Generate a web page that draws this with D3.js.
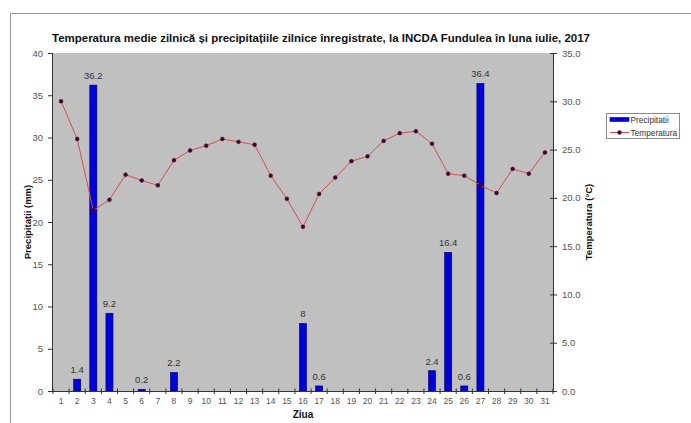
<!DOCTYPE html>
<html>
<head>
<meta charset="utf-8">
<script src="https://cdn.jsdelivr.net/npm/d3@7/dist/d3.min.js"></script>
<style>
  html, body { margin: 0; padding: 0; background: #ffffff; }
  svg { display: block; font-family: "Liberation Sans", Arial, sans-serif; }
</style>
</head>
<body>
<svg id="chart" width="691" height="423"></svg>
<script>
// Days of July 2017
const days = d3.range(1, 32);
// Daily precipitation (mm)
const precipitation = [0, 1.4, 36.2, 9.2, 0, 0.2, 0, 2.2, 0, 0, 0, 0, 0, 0, 0, 8, 0.6, 0, 0, 0, 0, 0, 0, 2.4, 16.4, 0.6, 36.4, 0, 0, 0, 0];
// Daily mean temperature (°C)
const temperature = [30.0, 26.1, 18.7, 19.8, 22.4, 21.8, 21.3, 23.9, 24.9, 25.4, 26.1, 25.8, 25.5, 22.3, 19.9, 17.0, 20.4, 22.1, 23.8, 24.3, 25.9, 26.7, 26.9, 25.6, 22.5, 22.3, 21.3, 20.5, 23.0, 22.5, 24.7];
const precipTicks = [0, 5, 10, 15, 20, 25, 30, 35, 40];
const tempTicks = [0, 5, 10, 15, 20, 25, 30, 35];

const titleText = "Temperatura medie zilnică și precipitațiile zilnice înregistrate, la INCDA Fundulea în luna iulie, 2017";

const svg = d3.select("#chart");
const plot = { left: 53, right: 553, top: 53, bottom: 391 };

// Frame around the whole chart
svg.append("path")
  .attr("d", "M10.5,423 V13.5 H691")
  .attr("fill", "none")
  .attr("stroke", "#9a9a9a")
  .attr("stroke-width", 1);

const x = d3.scaleBand().domain(days).range([plot.left, plot.right]).paddingInner(0.56).paddingOuter(0.28);
const xEdge = d3.scaleLinear().domain([0, days.length]).range([plot.left, plot.right]);
const yP = d3.scaleLinear().domain([0, 40]).range([plot.bottom, plot.top]);
const yT = d3.scaleLinear().domain([0, 35]).range([plot.bottom, plot.top]);

// Plot area
svg.append("rect")
  .attr("x", plot.left).attr("y", plot.top)
  .attr("width", plot.right - plot.left).attr("height", plot.bottom - plot.top)
  .attr("fill", "#c0c0c0");

// Precipitation bars
const pData = days.map((d, i) => ({ day: d, v: precipitation[i] })).filter(d => d.v > 0);
svg.append("g").selectAll("rect")
  .data(pData)
  .join("rect")
  .attr("x", d => x(d.day))
  .attr("y", d => yP(d.v))
  .attr("width", x.bandwidth())
  .attr("height", d => yP(0) - yP(d.v))
  .attr("fill", "#0000d8")
  .attr("stroke", "#00006a")
  .attr("stroke-width", 0.6);

// Bar value labels
svg.append("g").selectAll("text")
  .data(pData)
  .join("text")
  .attr("x", d => x(d.day) + x.bandwidth() / 2)
  .attr("y", d => yP(d.v) - 6)
  .attr("text-anchor", "middle")
  .attr("font-size", 9.5)
  .attr("fill", "#333")
  .text(d => String(d.v));

// Temperature line
const tData = days.map((d, i) => ({ day: d, v: temperature[i] }));
svg.append("path")
  .datum(tData)
  .attr("fill", "none")
  .attr("stroke", "#d4504c")
  .attr("stroke-width", 1)
  .attr("d", d3.line().x(d => x(d.day) + x.bandwidth() / 2).y(d => yT(d.v)));
svg.append("g").selectAll("path")
  .data(tData)
  .join("path")
  .attr("transform", d => `translate(${x(d.day) + x.bandwidth() / 2},${yT(d.v)})`)
  .attr("d", d3.symbol(d3.symbolCircle, 12))
  .attr("fill", "#3a0030")
  .attr("stroke", "#5a1040")
  .attr("stroke-width", 0.5);

// Left axis
const leftAxis = svg.append("g")
  .attr("transform", `translate(${plot.left},0)`)
  .call(d3.axisLeft(yP).tickValues(precipTicks).tickSize(5).tickPadding(5).tickFormat(d3.format("d")));
leftAxis.select(".domain").attr("stroke", "#333").attr("d", `M-0.5,${plot.bottom}V${plot.top}`);
leftAxis.selectAll(".tick line").attr("stroke", "#333");
leftAxis.selectAll("text").attr("font-size", 9.5).attr("fill", "#555").attr("font-family", "Liberation Sans, Arial, sans-serif");

// Right axis
const rightAxis = svg.append("g")
  .attr("transform", `translate(${plot.right},0)`)
  .call(d3.axisRight(yT).tickValues(tempTicks).tickSize(4).tickPadding(5).tickFormat(d3.format(".1f")));
rightAxis.select(".domain").attr("stroke", "#333").attr("d", `M0.5,${plot.bottom}V${plot.top}`);
rightAxis.selectAll(".tick line").attr("stroke", "#333").attr("x1", -3);
rightAxis.selectAll("text").attr("font-size", 9.5).attr("fill", "#555").attr("font-family", "Liberation Sans, Arial, sans-serif");

// Bottom axis: labels centred on bands, ticks on the band boundaries
const bottomAxis = svg.append("g")
  .attr("transform", `translate(0,${plot.bottom})`)
  .call(d3.axisBottom(x).tickSize(0).tickPadding(7));
bottomAxis.select(".domain").attr("stroke", "#333").attr("d", `M${plot.left},0.5H${plot.right}`);
bottomAxis.selectAll("text").attr("font-size", 8.5).attr("fill", "#555").attr("font-family", "Liberation Sans, Arial, sans-serif");
bottomAxis.append("g").selectAll("line")
  .data(d3.range(0, days.length + 1))
  .join("line")
  .attr("x1", i => xEdge(i)).attr("x2", i => xEdge(i))
  .attr("y1", -2.5).attr("y2", 3)
  .attr("stroke", "#333");

// Axis titles
svg.append("text")
  .attr("transform", `translate(31,${(plot.top + plot.bottom) / 2}) rotate(-90)`)
  .attr("text-anchor", "middle")
  .attr("font-size", 9.5).attr("font-weight", "bold").attr("fill", "#111")
  .text("Precipitații (mm)");
svg.append("text")
  .attr("transform", `translate(592,${(plot.top + plot.bottom) / 2}) rotate(-90)`)
  .attr("text-anchor", "middle")
  .attr("font-size", 9.5).attr("font-weight", "bold").attr("fill", "#111")
  .text("Temperatura (°C)");
svg.append("text")
  .attr("x", (plot.left + plot.right) / 2).attr("y", 418)
  .attr("text-anchor", "middle")
  .attr("font-size", 10).attr("font-weight", "bold").attr("fill", "#111")
  .text("Ziua");

// Title, sized to span its line
const title = svg.append("text")
  .attr("x", 321).attr("y", 42)
  .attr("text-anchor", "middle")
  .attr("font-size", 12).attr("font-weight", "bold").attr("fill", "#111")
  .text(titleText);
const tw = title.node().getComputedTextLength();
title.attr("font-size", 12 * 538 / tw);

// Legend
const lg = svg.append("g").attr("transform", "translate(606,113)");
lg.append("rect").attr("x", 0.5).attr("y", 0.5).attr("width", 73).attr("height", 25)
  .attr("fill", "#ffffff").attr("stroke", "#8a8a8a");
lg.append("rect").attr("x", 4).attr("y", 4.5).attr("width", 19).attr("height", 4)
  .attr("fill", "#0000d8").attr("stroke", "#00006a").attr("stroke-width", 0.6);
lg.append("text").attr("x", 24.5).attr("y", 10).attr("font-size", 8.3).attr("fill", "#333").text("Precipitatii");
lg.append("line").attr("x1", 4).attr("x2", 23).attr("y1", 19.5).attr("y2", 19.5)
  .attr("stroke", "#d4504c");
lg.append("path").attr("transform", "translate(13.5,19.5)")
  .attr("d", d3.symbol(d3.symbolCircle, 12)).attr("fill", "#3a0030").attr("stroke", "#5a1040").attr("stroke-width", 0.5);
lg.append("text").attr("x", 24.5).attr("y", 22.5).attr("font-size", 8.3).attr("fill", "#333").text("Temperatura");
</script>
</body>
</html>
